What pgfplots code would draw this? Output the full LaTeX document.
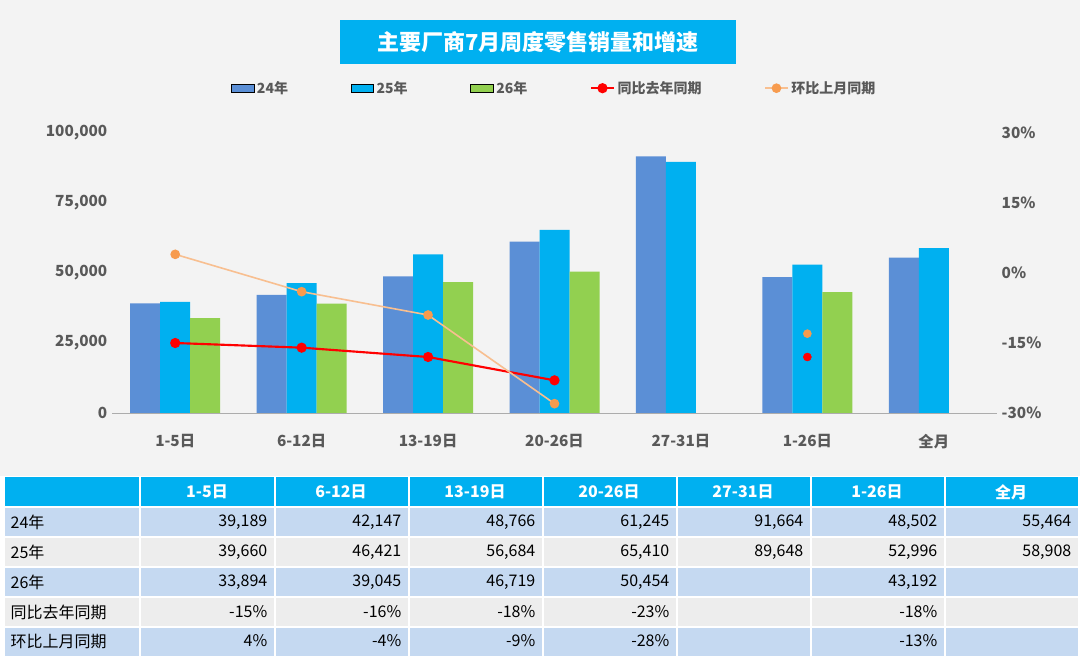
\documentclass[border=0pt]{standalone}
\usepackage{pgfplots}
\pgfplotsset{compat=1.18}
\usepackage{fontspec}
\setmainfont{Noto Sans CJK SC}
\definecolor{cA}{HTML}{5B8FD6}
\definecolor{cB}{HTML}{00B0F0}
\definecolor{cC}{HTML}{92D050}
\definecolor{cR}{HTML}{FF0000}
\definecolor{cO}{HTML}{F8BF90}
\definecolor{cOm}{HTML}{F79B4E}
\definecolor{gr}{HTML}{595959}
\definecolor{rb}{HTML}{C5D9F1}
\definecolor{rg}{HTML}{EDEDED}
\begin{document}
\begin{tikzpicture}
\begin{scope}[x=0.75pt,y=-0.75pt,yshift=495pt]
\fill[white] (0,0) rectangle (1080,660);
\fill[rg!70!white] (0,0) rectangle (1080,476);
\fill[cB] (340,20) rectangle (736,64);
\node[text=white,font=\fontsize{16.5}{18}\selectfont\bfseries] at (538,42) {主要厂商7月周度零售销量和增速};
\end{scope}
\begin{axis}[at={(84pt,185.25pt)},anchor=south west,scale only axis,width=663.75pt,height=210pt,
 xmin=-0.5,xmax=6.5,ymin=0,ymax=100000,axis y line*=left,axis x line*=bottom,
 y axis line style={draw=none},x axis line style={gr!50},
 xtick={0,...,6},xticklabels={1-5日,6-12日,13-19日,20-26日,27-31日,1-26日,全月},
 ytick={0,25000,50000,75000,100000},
 scaled y ticks=false,yticklabel style={/pgf/number format/.cd,fixed,1000 sep={,}},
 /pgf/number format/assume math mode=true,
 tick style={draw=none},
 ticklabel style={font=\fontsize{11.5}{13}\selectfont\bfseries,text=gr},
 xticklabel style={yshift=-8pt},
 ybar,bar width=22.5pt]
\addplot[fill=cA,draw=none,bar shift=-22.5pt] coordinates {(0,39189)(1,42147)(2,48766)(3,61245)(4,91664)(5,48502)(6,55464)};
\addplot[fill=cB,draw=none,bar shift=0pt] coordinates {(0,39660)(1,46421)(2,56684)(3,65410)(4,89648)(5,52996)(6,58908)};
\addplot[fill=cC,draw=none,bar shift=22.5pt] coordinates {(0,33894)(1,39045)(2,46719)(3,50454)(5,43192)};
\end{axis}
\begin{axis}[at={(84pt,185.25pt)},anchor=south west,scale only axis,width=663.75pt,height=210pt,
 xmin=-0.5,xmax=6.5,ymin=-30,ymax=30,axis y line*=right,axis x line=none,
 y axis line style={draw=none},tick style={draw=none},
 ytick={-30,-15,0,15,30},yticklabel={\pgfmathprintnumber{\tick}\%},
 /pgf/number format/assume math mode=true,
 ticklabel style={font=\fontsize{11.5}{13}\selectfont\bfseries,text=gr},
 legend style={at={(0.5,1.16)},anchor=center,draw=none,fill=none,font=\fontsize{10.5}{12}\selectfont\bfseries,text=gr},
 legend columns=5,/tikz/every even column/.append style={column sep=45pt}]
\addlegendimage{area legend,fill=cA,draw=none}\addlegendentry{24年}
\addlegendimage{area legend,fill=cB,draw=none}\addlegendentry{25年}
\addlegendimage{area legend,fill=cC,draw=none}\addlegendentry{26年}
\addplot[cR,line width=1.6pt,mark=*,mark size=3pt] coordinates {(0,-15)(1,-16)(2,-18)(3,-23)};
\addlegendentry{同比去年同期}
\addplot[cO,line width=1.2pt,mark=*,mark size=3pt,mark options={fill=cOm,draw=cOm}] coordinates {(0,4)(1,-4)(2,-9)(3,-28)};
\addlegendentry{环比上月同期}
\addplot[only marks,cR,mark=*,mark size=3pt,forget plot] coordinates {(5,-18)};
\addplot[only marks,mark=*,mark size=3pt,mark options={fill=cOm,draw=cOm},forget plot] coordinates {(5,-13)};
\end{axis}
\begin{scope}[x=0.75pt,y=-0.75pt,yshift=495pt]
\fill[cB] (5,477) rectangle (1078,507);
\foreach \a/\b/\c in {507/537/rb,537/567/rg,567/597/rb,597/627/rg,627/656/rb}{\fill[\c] (5,\a) rectangle (1078,\b);}
\foreach \x in {140,275,409,543,677,811,945}{\draw[white,line width=1.2pt] (\x,477)--(\x,656);}
\foreach \y in {507,537,567,597,627}{\draw[white,line width=1.2pt] (5,\y)--(1078,\y);}
\foreach \t [count=\i from 0] in {1-5日,6-12日,13-19日,20-26日,27-31日,1-26日,全月}{
 \node[text=white,font=\fontsize{12}{14}\selectfont\bfseries] at ({207+134*\i},492) {\t};}
\foreach \t/\y in {24年/522,25年/552,26年/582,同比去年同期/612,环比上月同期/641}{
 \node[anchor=west,font=\fontsize{12}{14}\selectfont] at (6,\y) {\t};}
\newcommand\rowv[2]{\foreach \v [count=\i from 0] in {#2}{\node[anchor=east,font=\fontsize{12}{14}\selectfont] at ({272+134*\i},#1) {\v};}}
\rowv{522}{39{,}189,42{,}147,48{,}766,61{,}245,91{,}664,48{,}502,55{,}464}
\rowv{552}{39{,}660,46{,}421,56{,}684,65{,}410,89{,}648,52{,}996,58{,}908}
\rowv{582}{33{,}894,39{,}045,46{,}719,50{,}454,,43{,}192,}
\rowv{612}{-15\%,-16\%,-18\%,-23\%,,-18\%,}
\rowv{641}{4\%,-4\%,-9\%,-28\%,,-13\%,}
\end{scope}
\end{tikzpicture}
\end{document}
